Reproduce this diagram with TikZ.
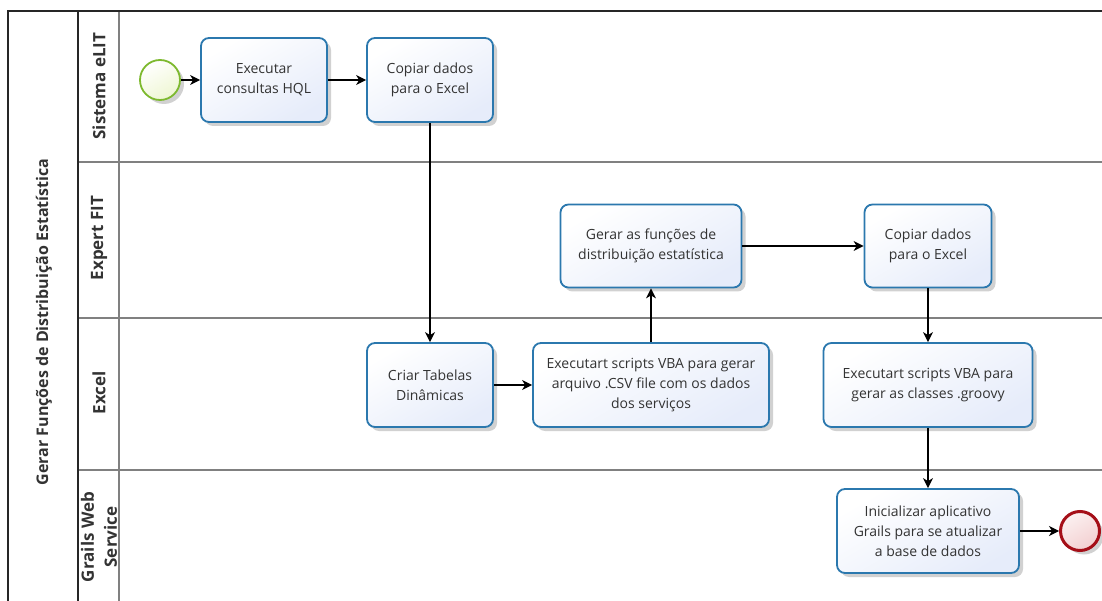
\documentclass[tikz,border=0pt]{standalone}
\usepackage{fontspec}
\setmainfont{Open Sans}
\usetikzlibrary{arrows.meta,shadows}
\definecolor{taskline}{HTML}{2B78AE}
\definecolor{taskfill}{HTML}{E6ECFA}
\definecolor{startline}{HTML}{7DB92E}
\definecolor{startfill}{HTML}{EEF6D2}
\definecolor{endline}{HTML}{A50F18}
\definecolor{endfill}{HTML}{F3CFD0}
\definecolor{laneline}{HTML}{808080}
\definecolor{txt}{HTML}{333333}
\tikzset{
  task/.style={rectangle, rounded corners=8pt, draw=taskline, line width=1.8pt,
    top color=white, bottom color=taskfill, shading angle=30,
    drop shadow={shadow xshift=4pt, shadow yshift=-4pt, opacity=0.18, fill=black},
    align=center, text=txt, font=\fontsize{14}{20}\selectfont, inner sep=2pt},
  startev/.style={circle, draw=startline, line width=1.8pt, minimum size=40pt, inner sep=0pt,
    top color=white, bottom color=startfill, shading angle=30,
    drop shadow={shadow xshift=4pt, shadow yshift=-4pt, opacity=0.18, fill=black}},
  endev/.style={circle, draw=endline, line width=3pt, minimum size=39pt, inner sep=0pt,
    top color=white!70!endfill, bottom color=endfill, shading angle=30,
    drop shadow={shadow xshift=4pt, shadow yshift=-4pt, opacity=0.18, fill=black}},
  flow/.style={-{Stealth[length=10pt,width=10pt,inset=3pt]}, line width=1.3pt, black},
  lanelabel/.style={rotate=90, font=\fontsize{17}{23}\bfseries, text=txt, align=center},
}
\begin{document}
\begin{tikzpicture}[x=1pt, y=-1pt]
\useasboundingbox (0,0) rectangle (1102,601);
% pool and lanes
\draw[laneline, line width=1.2pt] (78,162) -- (1102,162)
  (78,318) -- (1102,318) (78,470) -- (1102,470)
  (119,11) -- (119,601);
\draw[black!85, line width=1.4pt] (1102,11) -- (8,11) -- (8,601)
  (78,11) -- (78,601);
\node[lanelabel, font=\fontsize{16}{18}\bfseries] (pool) at (44,322) {Gerar Funções de Distribuição Estatística};
\node[lanelabel] (l1) at (99,86) {Sistema eLIT};
\node[lanelabel] (l2) at (99,238) {Expert FIT};
\node[lanelabel] (l3) at (99,393) {Excel};
\node[lanelabel] (l4) at (99,537) {Grails Web\\Service};
% events and tasks
\node[startev] (s) at (160,80) {};
\node[task, minimum width=126pt, minimum height=84pt] (t1) at (264,80) {Executar\\consultas HQL};
\node[task, minimum width=126pt, minimum height=84pt] (t2) at (430,80) {Copiar dados\\para o Excel};
\node[task, minimum width=181pt, minimum height=83pt] (t3) at (651,246) {Gerar as funções de\\distribuição estatística};
\node[task, minimum width=127pt, minimum height=83pt] (t4) at (928,246) {Copiar dados\\para o Excel};
\node[task, minimum width=126pt, minimum height=84pt] (t5) at (430,385) {Criar Tabelas\\Dinâmicas};
\node[task, minimum width=236pt, minimum height=84pt] (t6) at (651,385) {Executart scripts VBA para gerar\\arquivo .CSV file com os dados\\dos serviços};
\node[task, minimum width=209pt, minimum height=84pt] (t7) at (928,385) {Executart scripts VBA para\\gerar as classes .groovy};
\node[task, minimum width=182pt, minimum height=84pt] (t8) at (928,531) {Inicializar aplicativo\\Grails para se atualizar\\a base de dados};
\node[endev] (e) at (1080,531) {};
% sequence flows
\draw[flow] (s) -- (t1);
\draw[flow] (t1) -- (t2);
\draw[flow] (t2) -- (t5);
\draw[flow] (t5) -- (t6);
\draw[flow] (t6) -- (t3);
\draw[flow] (t3) -- (t4);
\draw[flow] (t4) -- (t7);
\draw[flow] (t7) -- (t8);
\draw[flow] (t8) -- (e);
\end{tikzpicture}
\end{document}
